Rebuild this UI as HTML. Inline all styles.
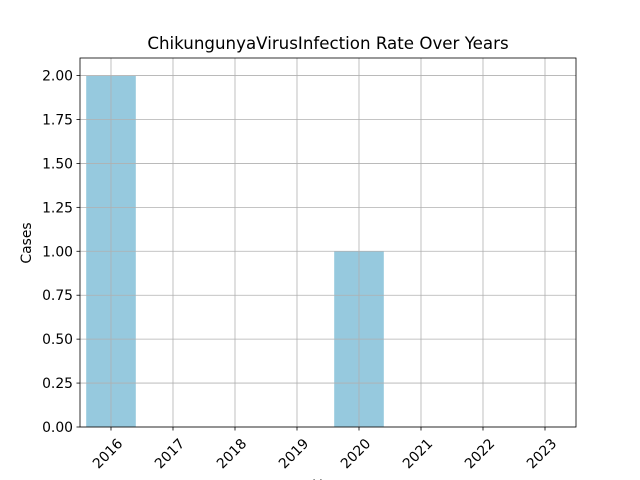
<!DOCTYPE html>
<html><head><meta charset="utf-8"><style>
body{margin:0;background:#fff;}
svg{display:block;font-family:"DejaVu Sans","Liberation Sans",sans-serif;}
</style></head><body>
<svg id="chart" width="640" height="480">
<rect width="640" height="480" fill="#fff"/>
<text x="328" y="49" text-anchor="middle" font-size="16.67">ChikungunyaVirusInfection Rate Over Years</text>
<g id="bars"></g><g id="grid"></g><g id="axes"></g>
<text transform="translate(31,243) rotate(-90)" text-anchor="middle" font-size="13.9">Cases</text>
<text x="328" y="490" text-anchor="middle" font-size="13.9">Year</text>
</svg>
<script>
const categories=["2016","2017","2018","2019","2020","2021","2022","2023"];
const values=[2,0,0,0,1,0,0,0];
const yTicks=[0,0.25,0.5,0.75,1,1.25,1.5,1.75,2];
const L=80,R=576,T=58,B=427,yMax=2.1;
const step=(R-L)/categories.length;
function xs(i){return L+step*(i+0.5);}
function ys(v){return B-(v/yMax)*(B-T);}
const NS="http://www.w3.org/2000/svg";
function mk(tag,attrs,parent){const e=document.createElementNS(NS,tag);for(const k in attrs)e.setAttribute(k,attrs[k]);parent.appendChild(e);return e;}
const grid=document.getElementById('grid'),bars=document.getElementById('bars'),axes=document.getElementById('axes');
yTicks.forEach(t=>{
 const y=ys(t);
 const g=mk('line',{x1:L,x2:R,y1:y,y2:y,stroke:'#b0b0b0','stroke-width':0.8},grid);
 
 
 mk('line',{x1:L-3.5,x2:L,y1:y,y2:y,stroke:'#000','stroke-width':0.8},axes);
 const tx=mk('text',{x:L-7,y:y+5,'text-anchor':'end','font-size':13.9},axes);
 tx.textContent=t.toFixed(2);
 
 
});
categories.forEach((c,i)=>{
 const x=xs(i);
 const g=mk('line',{x1:x,x2:x,y1:T,y2:B,stroke:'#b0b0b0','stroke-width':0.8},grid);
 
 
 const w=step*0.8;
 const r=mk('rect',{x:x-w/2,y:ys(values[i]),width:w,height:B-ys(values[i]),fill:'#96c9de'},bars);
 
 
 mk('line',{x1:x,x2:x,y1:B,y2:B+3.5,stroke:'#000','stroke-width':0.8},axes);
 const tx=mk('text',{transform:`translate(${x+5},${B+10}) rotate(-45)`,'text-anchor':'end','font-size':13.9,dy:'0.75em'},axes);
 tx.textContent=c;
 
 
});
const f=mk('rect',{x:L,y:T,width:R-L,height:B-T,fill:'none',stroke:'#000','stroke-width':0.8},axes);


</script>
</body></html>
